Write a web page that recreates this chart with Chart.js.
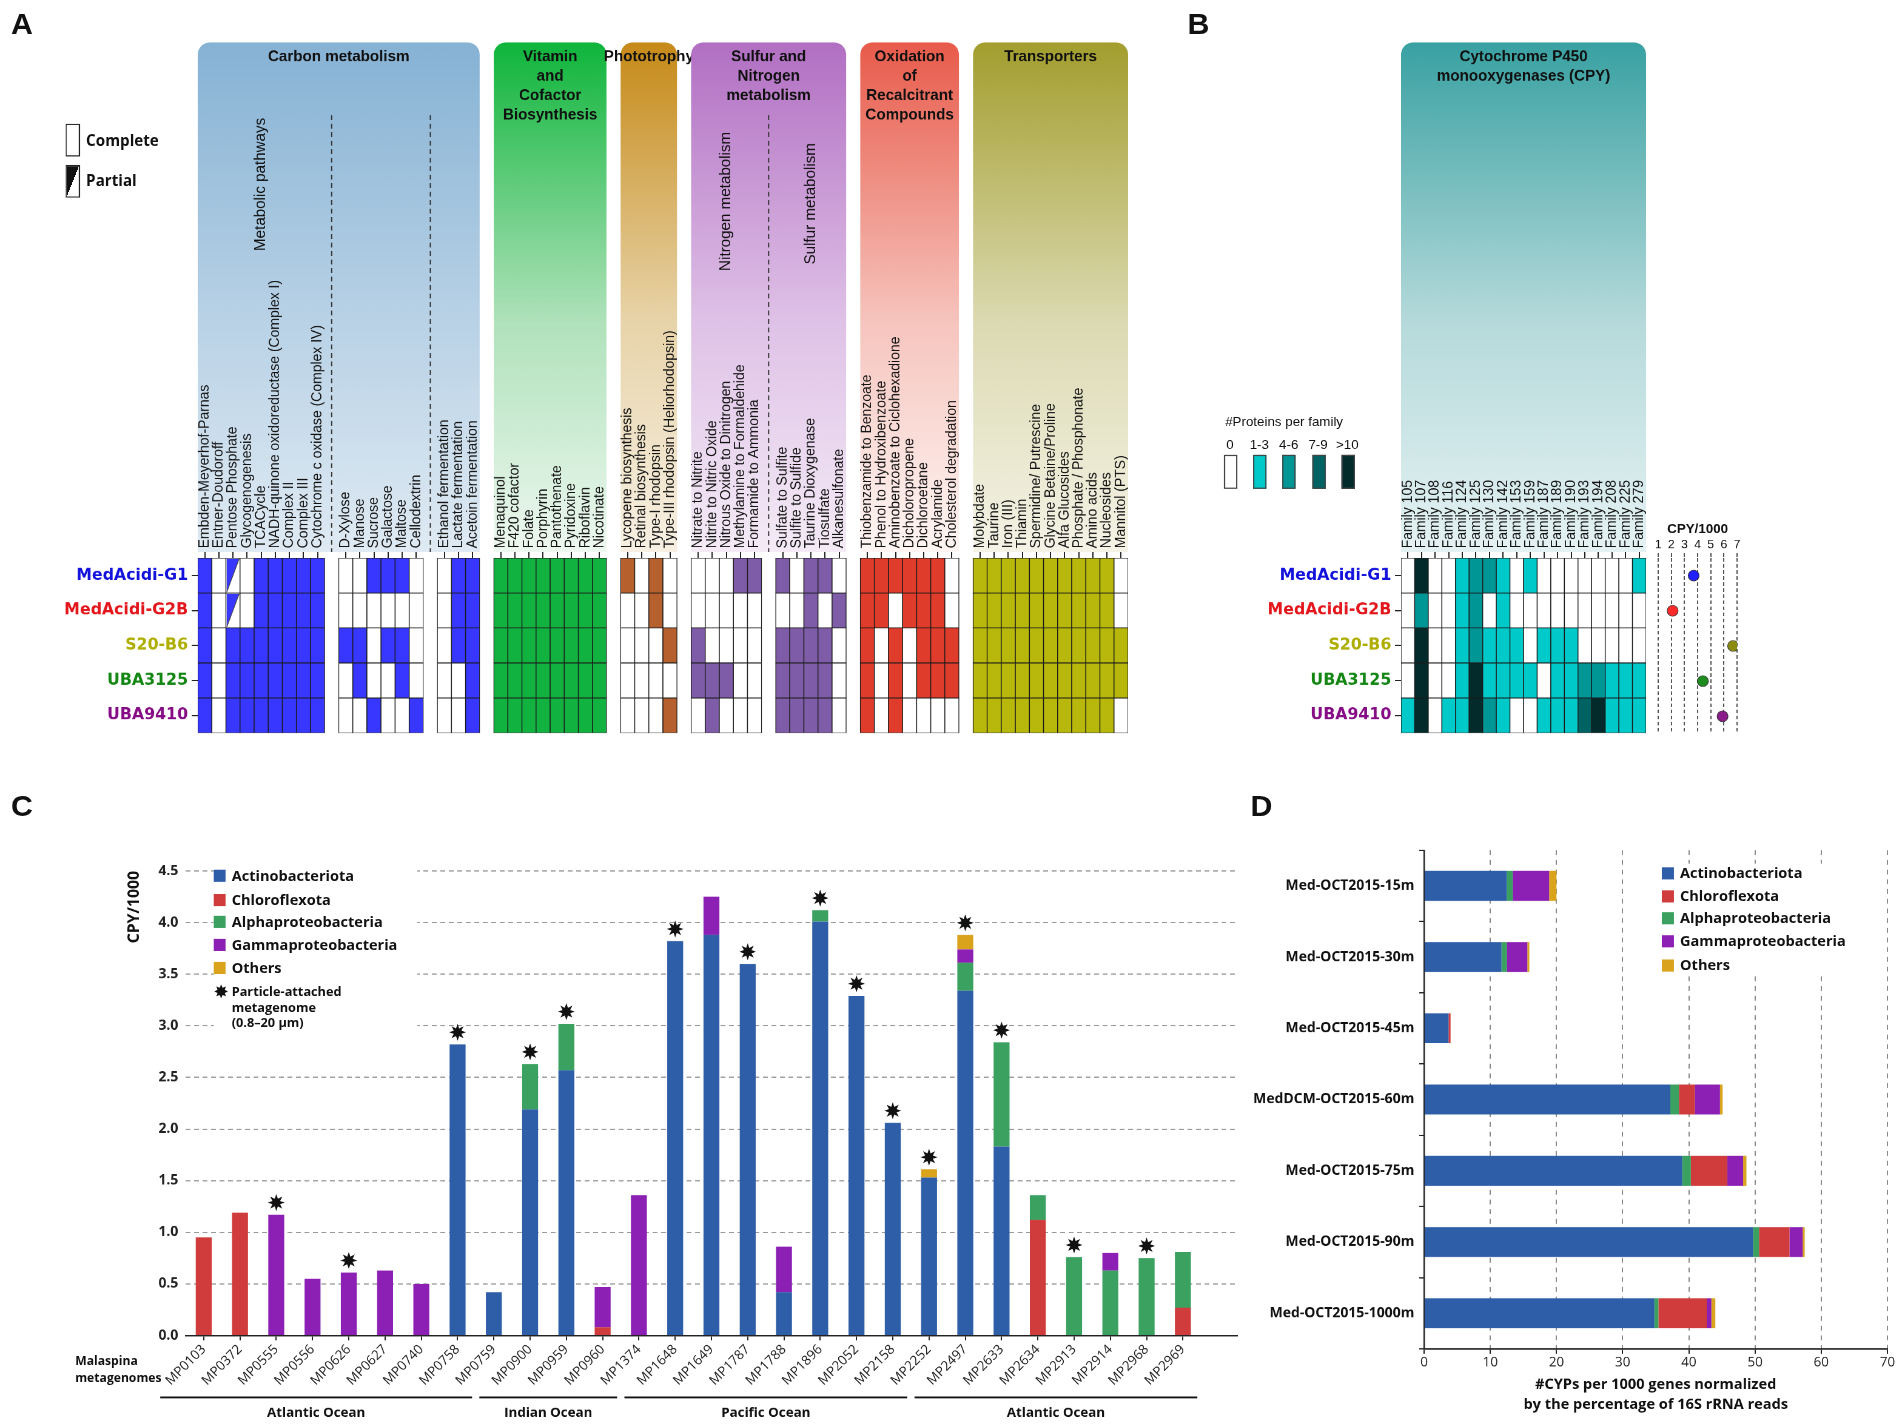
<!DOCTYPE html>
<html>
<head>
<meta charset="utf-8">
<title>CYP figure</title>
<script src="https://cdn.jsdelivr.net/npm/chart.js@4.4.1/dist/chart.umd.min.js"></script>
<style>
  html, body { margin: 0; padding: 0; background: #fff; }
  body { width: 1902px; height: 1425px; overflow: hidden; }
  #page { position: absolute; left: 0; top: 0; width: 1568px; height: 1175px;
          transform: scale(1.213); transform-origin: 0 0;
          font-family: "Liberation Sans", Arial, sans-serif; color: #111; }
  .abs { position: absolute; }
  .letter { position: absolute; font: bold 25px "Liberation Sans", Arial, sans-serif; }
  .legend { position: absolute; background: #fff; font: bold 12px "Open Sans", sans-serif; color: #111; }
  .legend .row { position: absolute; left: 0; height: 14px; line-height: 14px; white-space: nowrap; }
  .legend .sw { display: inline-block; width: 10px; height: 10px; vertical-align: -1px; margin-right: 5px; }
  .tag { position: absolute; font: bold 12.5px "Open Sans", sans-serif; }
</style>
</head>
<body>
<div id="page">
  <div class="letter" style="left:9px;top:5px">A</div>
  <div class="letter" style="left:979px;top:5px">B</div>
  <div class="letter" style="left:9px;top:650px">C</div>
  <div class="letter" style="left:1031px;top:650px">D</div>

  <div class="abs" style="left:40px;top:30px"><canvas id="chartA" width="905" height="585"></canvas></div>
  <div class="abs" style="left:1000px;top:30px"><canvas id="chartB" width="365" height="585"></canvas></div>
  <div class="abs" style="left:1357px;top:430px"><canvas id="chartDots" width="90" height="185"></canvas></div>
  <div class="abs" style="left:95px;top:690px"><canvas id="chartC" width="940" height="485"></canvas></div>
  <div class="abs" style="left:1020px;top:690px"><canvas id="chartD" width="545" height="485"></canvas></div>

  <!-- complete / partial key -->
  <div class="abs" style="left:54px;top:102px;width:12px;height:27px;border:1px solid #222;box-sizing:border-box;background:#fff"></div>
  <div class="tag" style="left:71px;top:107px">Complete</div>
  <div class="abs" style="left:54px;top:136px;width:12px;height:27px;border:1px solid #222;box-sizing:border-box;background:linear-gradient(to bottom right,#111 50%,#fff 50%)"></div>
  <div class="tag" style="left:71px;top:140px">Partial</div>

  <!-- proteins per family key -->
  <div class="abs" style="left:1010px;top:341px;font-size:11px">#Proteins per family</div>
  <div id="levelKey" class="abs" style="left:1003px;top:360px;width:125px;height:46px"></div>

  <div class="legend" id="legendC" style="left:176px;top:714px;width:168px;height:140px"></div>
  <div class="legend" id="legendD" style="left:1370px;top:712px;width:172px;height:92px"></div>

  <div class="abs" style="left:62px;top:1114px;font:bold 10px 'Open Sans';line-height:14px">Malaspina<br>metagenomes</div>
</div>

<script>
// ---------- Panel A: metabolic pathways ----------
const genomes = ['MedAcidi-G1', 'MedAcidi-G2B', 'S20-B6', 'UBA3125', 'UBA9410'];
const genomeColors = ['#1212dc', '#e3161c', '#aeae00', '#138613', '#860c86'];

const carbonPaths = ['Embden-Meyerhof-Parnas', 'Entner-Doudoroff', 'Pentose Phosphate', 'Glycogenogenesis', 'TCACycle',
  'NADH-quinone oxidoreductase (Complex I)', 'Complex II', 'Complex III', 'Cytochrome c oxidase (Complex IV)'];
const sugarPaths = ['D-Xylose', 'Manose', 'Sucrose', 'Galactose', 'Maltose', 'Cellodextrin'];
const fermentPaths = ['Ethanol fermentation', 'Lactate fermentation', 'Acetoin fermentation'];
const vitaminPaths = ['Menaquinol', 'F420 cofactor', 'Folate', 'Porphyrin', 'Pantothenate', 'Pyridoxine', 'Riboflavin', 'Nicotinate'];
const photoPaths = ['Lycopene biosynthesis', 'Retinal biosynthesis', 'Type-I rhodopsin', 'Type-III rhodopsin (Heliorhodopsin)'];
const nitrogenPaths = ['Nitrate to Nitrite', 'Nitrite to Nitric Oxide', 'Nitrous Oxide to Dinitrogen', 'Methylamine to Formaldehide', 'Formamide to Ammonia'];
const sulfurPaths = ['Sulfate to Sulfite', 'Sulfite to Sulfide', 'Taurine Dioxygenase', 'Tiosulfate', 'Alkanesulfonate'];
const oxidationPaths = ['Thiobenzamide to Benzoate', 'Phenol to Hydroxibenzoate', 'Aminobenzoate to Ciclohexadione',
  'Dicholoropropene', 'Dichloroetane', 'Acrylamide', 'Cholesterol degradation'];
const transportPaths = ['Molybdate', 'Taurine', 'Iron (III)', 'Thiamin', 'Spermidine/ Putrescine', 'Glycine Betaine/Proline',
  'Alfa Glucosides', 'Phosphate / Phosphonate', 'Amino acids', 'Nucleosides', 'Mannitol (PTS)'];

// 1 = complete, 2 = partial, 0 = absent  (blocks in the order listed above)
const pathG1 = [1,0,2,0,1,1,1,1,1, 0,0,1,1,1,0, 0,1,1, 1,1,1,1,1,1,1,1, 1,0,1,0, 0,0,0,1,1, 1,0,1,1,0, 1,1,1,1,1,1,0, 1,1,1,1,1,1,1,1,1,1,0];
const pathG2B = [1,0,2,0,1,1,1,1,1, 0,0,0,0,0,0, 0,1,1, 1,1,1,1,1,1,1,1, 0,0,1,0, 0,0,0,0,0, 0,0,1,0,1, 1,1,0,1,1,1,0, 1,1,1,1,1,1,1,1,1,1,0];
const pathS20B6 = [1,0,1,1,1,1,1,1,1, 1,1,0,1,1,0, 0,1,1, 1,1,1,1,1,1,1,1, 0,0,0,1, 1,0,0,0,0, 1,1,1,1,0, 1,0,1,0,1,1,1, 1,1,1,1,1,1,1,1,1,1,1];
const pathUBA3125 = [1,0,1,1,1,1,1,1,1, 0,1,0,0,1,0, 0,0,1, 1,1,1,1,1,1,1,1, 0,0,0,0, 1,1,1,0,0, 1,1,1,1,0, 1,0,1,0,1,1,1, 1,1,1,1,1,1,1,1,1,1,1];
const pathUBA9410 = [1,0,1,1,1,1,1,1,1, 0,0,1,0,0,1, 0,0,1, 1,1,1,1,1,1,1,1, 0,0,0,1, 0,1,0,0,0, 1,1,1,1,0, 1,0,1,0,0,0,0, 1,1,1,1,1,1,1,1,1,1,0];

// ---------- Panel B: CYP families ----------
const cypFamilies = ['Family 105', 'Family 107', 'Family 108', 'Family 116', 'Family 124', 'Family 125', 'Family 130', 'Family 142',
  'Family 153', 'Family 159', 'Family 187', 'Family 189', 'Family 190', 'Family 193', 'Family 194', 'Family 208', 'Family 225', 'Family 279'];
const levelLabels = ['0', '1-3', '4-6', '7-9', '>10'];
// level index 0..4 per family
const cypG1 = [0,4,0,0,1,2,2,1,0,1,0,0,0,0,0,0,0,1];
const cypG2B = [0,2,0,0,1,2,0,1,0,0,0,0,0,0,0,0,0,0];
const cypS20B6 = [0,4,0,0,1,2,1,1,1,0,1,1,1,0,0,0,0,0];
const cypUBA3125 = [0,4,0,0,1,4,1,1,1,1,0,1,1,2,2,1,1,1];
const cypUBA9410 = [1,4,0,1,1,4,2,1,0,0,1,1,1,3,4,1,1,1];
const cpyPer1000 = [3.7, 2.1, 6.7, 4.4, 5.9];

// ---------- Panel C: Malaspina metagenomes ----------
const samples = ['MP0103','MP0372','MP0555','MP0556','MP0626','MP0627','MP0740','MP0758','MP0759','MP0900','MP0959','MP0960','MP1374','MP1648',
  'MP1649','MP1787','MP1788','MP1896','MP2052','MP2158','MP2252','MP2497','MP2633','MP2634','MP2913','MP2914','MP2968','MP2969'];
const actino = [0,0,0,0,0,0,0,2.82,0.42,2.19,2.57,0,0,3.82,3.88,3.60,0.42,4.01,3.29,2.06,1.53,3.34,1.83,0,0,0,0,0];
const chloro = [0.95,1.19,0,0,0,0,0,0,0,0,0,0.08,0,0,0,0,0,0,0,0,0,0,0,1.12,0,0,0,0.27];
const alpha = [0,0,0,0,0,0,0,0,0,0.44,0.45,0,0,0,0,0,0,0.11,0,0,0,0.27,1.01,0.24,0.76,0.63,0.75,0.54];
const gamma = [0,0,1.17,0.55,0.61,0.63,0.50,0,0,0,0,0.39,1.36,0,0.37,0,0.44,0,0,0,0,0.13,0,0,0,0.17,0,0];
const others = [0,0,0,0,0,0,0,0,0,0,0,0,0,0,0,0,0,0,0,0,0.08,0.14,0,0,0,0,0,0];
const particleAttached = [0,0,1,0,1,0,0,1,0,1,1,0,0,1,0,1,0,1,1,1,1,1,1,0,1,0,1,0];
const oceans = [
  {name: 'Atlantic Ocean', from: 0, to: 7},
  {name: 'Indian Ocean', from: 8, to: 11},
  {name: 'Pacific Ocean', from: 12, to: 19},
  {name: 'Atlantic Ocean', from: 20, to: 27}
];

// ---------- Panel D: Mediterranean depth profile ----------
const depths = ['Med-OCT2015-15m', 'Med-OCT2015-30m', 'Med-OCT2015-45m', 'MedDCM-OCT2015-60m', 'Med-OCT2015-75m', 'Med-OCT2015-90m', 'Med-OCT2015-1000m'];
const dActino = [12.5, 11.7, 3.7, 37.2, 39.0, 49.7, 34.8];
const dAlpha = [0.9, 0.8, 0, 1.3, 1.3, 0.9, 0.6];
const dChloro = [0, 0, 0.3, 2.4, 5.5, 4.6, 7.3];
const dGamma = [5.5, 3.1, 0, 3.8, 2.4, 2.0, 0.7];
const dOthers = [1.1, 0.3, 0, 0.4, 0.5, 0.3, 0.6];

const seriesNames = ['Actinobacteriota', 'Chloroflexota', 'Alphaproteobacteria', 'Gammaproteobacteria', 'Others'];
const seriesColors = ['#2f5ea8', '#d03b3b', '#3aa160', '#8c20b4', '#d9a31c'];

// ---------- styling helpers ----------
const levelColors = ['#ffffff', '#00c9c9', '#009696', '#006363', '#032b2b'];
const blocks = [carbonPaths, sugarPaths, fermentPaths, vitaminPaths, photoPaths, nitrogenPaths, sulfurPaths, oxidationPaths, transportPaths];
const blockColors = ['#3737ff', '#3737ff', '#3737ff', '#12b240', '#b6612d', '#7f5ca8', '#7f5ca8', '#e03c2b', '#b8b80c'];
const clear = 'rgba(0,0,0,0)';

const colLabels = [], colBlock = [];
blocks.forEach((b, bi) => {
  if (bi) { colLabels.push(''); colBlock.push(-1); }
  b.forEach(l => { colLabels.push(l); colBlock.push(bi); });
});
const first = bi => colBlock.indexOf(bi);
const last = bi => colBlock.lastIndexOf(bi);

function starPath(ctx, cx, cy, ro, ri) {
  ctx.beginPath();
  for (let k = 0; k < 16; k++) {
    const r = k % 2 ? ri : ro;
    const a = -Math.PI / 2 + k * Math.PI / 8;
    if (k === 0) ctx.moveTo(cx + r * Math.cos(a), cy + r * Math.sin(a));
    else ctx.lineTo(cx + r * Math.cos(a), cy + r * Math.sin(a));
  }
  ctx.closePath();
}

// coloured header boxes behind the rotated pathway labels
const headerPlugin = {
  id: 'headers',
  beforeDraw(chart, args, opts) {
    const {ctx, chartArea} = chart;
    const x = chart.scales.x;
    const half = (x.getPixelForValue(1) - x.getPixelForValue(0)) / 2;
    const bottom = chartArea.top - 5;
    ctx.save();
    opts.boxes.forEach(b => {
      const l = x.getPixelForValue(b.from) - half, r = x.getPixelForValue(b.to) + half;
      const g = ctx.createLinearGradient(0, opts.top, 0, bottom);
      g.addColorStop(0, b.colors[0]);
      g.addColorStop(0.55, b.colors[1]);
      g.addColorStop(1, b.colors[2]);
      ctx.fillStyle = g;
      ctx.beginPath();
      ctx.roundRect(l, opts.top, r - l, bottom - opts.top, [10, 10, 0, 0]);
      ctx.fill();
      ctx.fillStyle = '#111';
      ctx.font = 'bold 12.5px "Liberation Sans"';
      ctx.textAlign = 'center';
      ctx.textBaseline = 'middle';
      b.title.forEach((t, i) => ctx.fillText(t, (l + r) / 2, opts.top + 12 + i * 16));
    });
    ctx.font = '12.5px "Liberation Sans"';
    (opts.subs || []).forEach(s => {
      const cx = (x.getPixelForValue(s.from) + x.getPixelForValue(s.to)) / 2;
      ctx.save();
      ctx.translate(cx, s.y);
      ctx.rotate(-Math.PI / 2);
      ctx.fillText(s.text, 0, 0);
      ctx.restore();
    });
    ctx.strokeStyle = '#333';
    ctx.lineWidth = 1;
    ctx.setLineDash([4, 3]);
    (opts.dashes || []).forEach(c => {
      const px = x.getPixelForValue(c);
      ctx.beginPath();
      ctx.moveTo(px, opts.dashTop);
      ctx.lineTo(px, bottom);
      ctx.stroke();
    });
    ctx.restore();
  }
};

// half-filled cells for partial pathways
const partialPlugin = {
  id: 'partialCells',
  afterDatasetsDraw(chart) {
    const ctx = chart.ctx;
    chart.data.datasets.forEach((ds, di) => {
      if (!ds.partialFill) return;
      const meta = chart.getDatasetMeta(di);
      ds.partialFill.forEach((fill, i) => {
        if (!fill) return;
        const p = meta.data[i].getProps(['x', 'y', 'base', 'width'], true);
        const l = p.x - p.width / 2 + 0.7, r = p.x + p.width / 2 - 0.7;
        const t = Math.min(p.y, p.base) + 0.7, b = Math.max(p.y, p.base) - 0.7;
        ctx.save();
        ctx.fillStyle = fill;
        ctx.beginPath();
        ctx.moveTo(l, t); ctx.lineTo(r, t); ctx.lineTo(l, b);
        ctx.closePath();
        ctx.fill();
        ctx.strokeStyle = '#444';
        ctx.lineWidth = 0.6;
        ctx.beginPath();
        ctx.moveTo(r, t); ctx.lineTo(l, b);
        ctx.stroke();
        ctx.restore();
      });
    });
  }
};

function heatmap(id, labels, fills, partial, cfg) {
  const datasets = genomes.map((g, r) => ({
    label: g,
    data: fills[r].map(f => f === null ? null : 1),
    backgroundColor: fills[r].map(f => f || '#fff'),
    partialFill: partial ? partial[r] : null,
    borderColor: '#1c1c1c',
    borderWidth: 0.7,
    borderSkipped: false,
    barPercentage: 1,
    categoryPercentage: 1
  }));
  return new Chart(document.getElementById(id), {
    type: 'bar',
    data: {labels, datasets},
    options: {
      responsive: false, animation: false, events: [], devicePixelRatio: 2,
      layout: {padding: cfg.padding},
      plugins: {legend: {display: false}, tooltip: {enabled: false}, headers: cfg.headers},
      scales: {
        x: {
          type: 'category', position: 'top', stacked: true,
          afterFit: s => { s.height = cfg.xHeight; },
          border: {display: false},
          grid: {drawOnChartArea: false, offset: false, tickLength: 5,
                 color: c => (c.tick && c.tick.label) ? '#222' : clear},
          ticks: {autoSkip: false, minRotation: 90, maxRotation: 90, padding: 3, labelOffset: 13.8,
                  font: {size: 11.5}, color: '#111'}
        },
        y: {
          type: 'linear', reverse: true, min: 0, max: 5, stacked: true,
          afterFit: s => { s.width = cfg.yWidth; },
          afterBuildTicks: s => { s.ticks = genomes.map((g, i) => ({value: i + 0.5})); },
          border: {display: false},
          grid: {drawOnChartArea: false, tickLength: 5, color: '#222'},
          ticks: {callback: (v, i) => genomes[i], color: c => genomeColors[c.index], padding: 3,
                  font: {family: '"DejaVu Sans"', weight: 'bold', size: 13}}
        }
      }
    },
    plugins: [headerPlugin, partialPlugin]
  });
}

// ----- panel A -----
const pathStatus = [pathG1, pathG2B, pathS20B6, pathUBA3125, pathUBA9410];
const aFills = pathStatus.map(st => { let k = 0; return colBlock.map(bi => bi < 0 ? null : (st[k++] === 1 ? blockColors[bi] : '#fff')); });
const aPartial = pathStatus.map(st => { let k = 0; return colBlock.map(bi => bi < 0 ? null : (st[k++] === 2 ? blockColors[bi] : null)); });

heatmap('chartA', colLabels, aFills, aPartial, {
  padding: {left: 0, right: 15, top: 0, bottom: 10},
  xHeight: 430, yWidth: 123,
  headers: {
    top: 5, dashTop: 65,
    boxes: [
      {from: first(0), to: last(2), title: ['Carbon metabolism'], colors: ['#86b2d4', '#b9d2e6', '#dfeaf3']},
      {from: first(3), to: last(3), title: ['Vitamin', 'and', 'Cofactor', 'Biosynthesis'], colors: ['#0fb53b', '#b0e2bb', '#eef8f0']},
      {from: first(4), to: last(4), title: ['Phototrophy'], colors: ['#c68a18', '#e8d4aa', '#f7f0e3']},
      {from: first(5), to: last(6), title: ['Sulfur and', 'Nitrogen', 'metabolism'], colors: ['#b26fc3', '#dfc2e7', '#f4ebf6']},
      {from: first(7), to: last(7), title: ['Oxidation', 'of', 'Recalcitrant', 'Compounds'], colors: ['#e85b4b', '#f6c5be', '#fff6f4']},
      {from: first(8), to: last(8), title: ['Transporters'], colors: ['#a39e2e', '#dcdab2', '#f4f3e6']}
    ],
    subs: [
      {from: first(0), to: last(0), text: 'Metabolic pathways', y: 122},
      {from: first(5), to: last(5), text: 'Nitrogen metabolism', y: 136},
      {from: first(6), to: last(6), text: 'Sulfur metabolism', y: 138}
    ],
    dashes: [last(0) + 1, last(1) + 1, last(5) + 1]
  }
});

// ----- panel B -----
const cypLevels = [cypG1, cypG2B, cypS20B6, cypUBA3125, cypUBA9410];
heatmap('chartB', cypFamilies, cypLevels.map(row => row.map(v => levelColors[v])), null, {
  padding: {left: 0, right: 8, top: 0, bottom: 10},
  xHeight: 430, yWidth: 155,
  headers: {
    top: 5, dashTop: 65,
    boxes: [{from: 0, to: cypFamilies.length - 1, title: ['Cytochrome P450', 'monooxygenases (CPY)'],
             colors: ['#39a1a2', '#b6dadb', '#e5f2f3']}]
  }
});

const dotColors = ['#1f1fff', '#ff2a2a', '#8c8c12', '#1e8c1e', '#8a1d8a'];
new Chart(document.getElementById('chartDots'), {
  type: 'scatter',
  data: {datasets: [{
    data: genomes.map((g, i) => ({x: cpyPer1000[i], y: g})),
    pointBackgroundColor: dotColors,
    pointBorderColor: '#333',
    pointBorderWidth: 0.6,
    pointRadius: 4.5
  }]},
  options: {
    responsive: false, animation: false, events: [], devicePixelRatio: 2,
    layout: {padding: {left: 10, right: 15, top: 0, bottom: 10}},
    plugins: {legend: {display: false}, tooltip: {enabled: false}},
    scales: {
      x: {
        type: 'linear', position: 'top', min: 1, max: 7,
        afterFit: s => { s.height = 30; },
        border: {display: false, dash: [3, 2]},
        grid: {color: '#555', tickLength: 4, tickBorderDash: [3, 2]},
        ticks: {stepSize: 1, padding: 1, autoSkip: false, minRotation: 0, maxRotation: 0, font: {size: 10}, color: '#111'},
        title: {display: true, text: 'CPY/1000', font: {size: 11, weight: 'bold'}, color: '#111', padding: {top: 0, bottom: 0}}
      },
      y: {type: 'category', labels: genomes, offset: true, display: false}
    }
  }
});

// ----- panel C -----
const starPlugin = {
  id: 'stars',
  afterDatasetsDraw(chart) {
    const {ctx, scales: {x, y}} = chart;
    ctx.save();
    ctx.fillStyle = '#111';
    particleAttached.forEach((p, i) => {
      if (!p) return;
      const total = actino[i] + chloro[i] + alpha[i] + gamma[i] + others[i];
      starPath(ctx, x.getPixelForValue(i), y.getPixelForValue(total) - 10, 7, 3.4);
      ctx.fill();
    });
    ctx.restore();
  }
};

const oceanPlugin = {
  id: 'oceans',
  afterDraw(chart, args, opts) {
    const {ctx, scales: {x}} = chart;
    const step = x.getPixelForValue(1) - x.getPixelForValue(0);
    ctx.save();
    ctx.strokeStyle = '#111';
    ctx.lineWidth = 1.4;
    ctx.fillStyle = '#111';
    ctx.font = 'bold 11px "Open Sans"';
    ctx.textAlign = 'center';
    ctx.textBaseline = 'middle';
    oceans.forEach((o, k) => {
      const l = x.getPixelForValue(o.from) - step * (k === 0 ? 1.3 : 0.5) + 3;
      const r = x.getPixelForValue(o.to) + step * 0.5 - 3;
      ctx.beginPath();
      ctx.moveTo(l, opts.lineY);
      ctx.lineTo(r, opts.lineY);
      ctx.stroke();
      ctx.fillText(o.name, (l + r) / 2, opts.textY);
    });
    ctx.restore();
  }
};

const seriesC = [actino, chloro, alpha, gamma, others];
new Chart(document.getElementById('chartC'), {
  type: 'bar',
  data: {
    labels: samples.concat(['']),
    datasets: seriesC.map((d, i) => ({label: seriesNames[i], data: d, backgroundColor: seriesColors[i]}))
  },
  options: {
    responsive: false, animation: false, events: [], devicePixelRatio: 2,
    layout: {padding: {top: 28, right: 15, left: 0, bottom: 0}},
    datasets: {bar: {barPercentage: 0.44, categoryPercentage: 1}},
    plugins: {legend: {display: false}, tooltip: {enabled: false}, oceans: {lineY: 462, textY: 475}},
    scales: {
      x: {
        stacked: true,
        afterFit: s => { s.height = 74; },
        border: {display: true, color: '#222', width: 1.2},
        grid: {drawOnChartArea: false, offset: false, tickLength: 4, color: c => (c.tick && c.tick.label) ? '#222' : clear},
        ticks: {autoSkip: false, minRotation: 45, maxRotation: 45, padding: 1, font: {family: '"Open Sans"', size: 11}, color: '#222'}
      },
      y: {
        stacked: true, min: 0, max: 4.5,
        afterFit: s => { s.width = 58; },
        border: {display: false, dash: [4, 3]},
        grid: {color: c => c.tick.value === 0 ? clear : '#9a9a9a', drawTicks: false},
        ticks: {stepSize: 0.5, padding: 6, callback: v => v.toFixed(1), font: {family: '"Open Sans"', weight: 'bold', size: 11.5}, color: '#222'},
        title: {display: true, text: 'CPY/1000', align: 'end', font: {family: '"Open Sans"', weight: 'bold', size: 13}, color: '#111', padding: {top: 8, bottom: 4}}
      }
    }
  },
  plugins: [starPlugin, oceanPlugin]
});

// ----- panel D (stacking order as drawn: Actino, Alpha, Chloro, Gamma, Others) -----
const seriesD = [
  {name: 0, data: dActino},
  {name: 2, data: dAlpha},
  {name: 1, data: dChloro},
  {name: 3, data: dGamma},
  {name: 4, data: dOthers}
];
new Chart(document.getElementById('chartD'), {
  type: 'bar',
  data: {
    labels: depths,
    datasets: seriesD.map(s => ({label: seriesNames[s.name], data: s.data, backgroundColor: seriesColors[s.name]}))
  },
  options: {
    indexAxis: 'y', responsive: false, animation: false, events: [], devicePixelRatio: 2,
    layout: {padding: {top: 7, right: 9, left: 0, bottom: 0}},
    datasets: {bar: {barPercentage: 0.42, categoryPercentage: 1}},
    plugins: {legend: {display: false}, tooltip: {enabled: false}},
    scales: {
      x: {
        stacked: true, min: 0, max: 70,
        afterFit: s => { s.height = 63; },
        border: {display: true, color: '#222', width: 1.2, dash: [4, 4]},
        grid: {color: c => c.tick.value === 0 ? clear : '#8a8a8a', tickColor: '#222', tickLength: 4, tickBorderDash: []},
        ticks: {stepSize: 10, padding: 1, font: {family: '"Open Sans"', size: 11}, color: '#222'},
        title: {display: true, text: ['#CYPs per 1000 genes normalized', 'by the percentage of 16S rRNA reads'],
                font: {family: '"Open Sans"', weight: 'bold', size: 12, lineHeight: 1.35}, color: '#111', padding: {top: 2, bottom: 9}}
      },
      y: {
        stacked: true,
        afterFit: s => { s.width = 154; },
        border: {display: true, color: '#222', width: 1.2},
        grid: {drawOnChartArea: false, tickLength: 4, color: '#222'},
        ticks: {padding: 4, font: {family: '"Open Sans"', weight: 'bold', size: 11.5}, color: '#111'}
      }
    }
  }
});

// ----- HTML keys -----
function fillLegend(id, rowTops) {
  const box = document.getElementById(id);
  seriesNames.forEach((n, i) => {
    const row = document.createElement('div');
    row.className = 'row';
    row.style.top = rowTops[i] + 'px';
    row.innerHTML = '<span class="sw" style="background:' + seriesColors[i] + '"></span>' + n;
    box.appendChild(row);
  });
  return box;
}
const legC = fillLegend('legendC', [1, 21, 39, 58, 77]);
const starRow = document.createElement('div');
starRow.className = 'row';
starRow.style.top = '97px';
starRow.style.height = 'auto';
starRow.innerHTML = '<span style="display:inline-block;width:15px;font:15px \'DejaVu Sans\';vertical-align:top;line-height:14px">&#10040;</span>' +
  '<span style="display:inline-block;font:bold 10.5px \'Open Sans\';line-height:13px">Particle-attached<br>metagenome<br>(0.8–20 µm)</span>';
legC.appendChild(starRow);
fillLegend('legendD', [1, 20, 38, 57, 77]);

const key = document.getElementById('levelKey');
levelLabels.forEach((l, i) => {
  const x = i * 24.2;
  const t = document.createElement('div');
  t.className = 'abs';
  t.style.cssText = 'left:' + (x - 6) + 'px;top:0;width:34px;text-align:center;font-size:11px';
  t.textContent = l;
  key.appendChild(t);
  const s = document.createElement('div');
  s.className = 'abs';
  s.style.cssText = 'left:' + (x + 6) + 'px;top:15px;width:11px;height:28px;box-sizing:border-box;border:1px solid #444;background:' + levelColors[i];
  key.appendChild(s);
});
</script>
</body>
</html>
